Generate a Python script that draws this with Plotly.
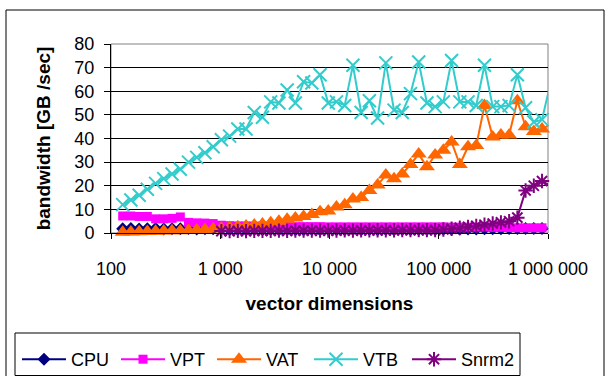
import plotly.graph_objects as go

# vector dimensions (x values)
dims = [128, 152, 181, 215, 256, 304, 362, 431, 512, 609, 724, 861,
        1024, 1218, 1448, 1722, 2048, 2435, 2896, 3444, 4096, 4871, 5793, 6889,
        8192, 9742, 11585, 13777, 16384, 19484, 23170, 27554, 32768, 38968, 46341, 55109,
        65536, 77936, 92682, 110218, 131072, 155872, 185364, 220436, 262144, 311744,
        370728, 440872, 524288, 623487, 741455, 881744, 1048576]

cpu = [1.8, 1.9, 1.7, 1.8, 1.9, 1.7, 1.8, 1.8, 1.9, 1.7, 1.8, 1.8,
       1.7, 1.5, 1.5, 1.4, 1.5, 1.4, 1.5, 1.4, 1.5, 1.4, 1.4, 1.5,
       1.4, 1.5, 1.4, 1.4, 1.5, 1.4, 1.5, 1.4, 1.5, 1.4, 1.5, 1.4,
       1.5, 1.5, 1.5, 1.6, 1.6, 1.6, 1.7, 1.7, 1.8, 1.8, 1.8, 1.9,
       1.9, 1.9, 1.9, 1.9, 1.9]

vpt = [7.2, 7.2, 7.0, 7.0, 6.0, 6.0, 6.2, 6.8, 4.5, 4.3, 4.2, 4.0,
       3.3, 3.1, 3.0, 3.0, 2.9, 2.9, 2.8, 2.8, 2.8, 2.7, 2.7, 2.7,
       2.7, 2.6, 2.6, 2.6, 2.6, 2.6, 2.6, 2.6, 2.6, 2.6, 2.6, 2.6,
       2.6, 2.6, 2.6, 2.6, 2.5, 2.5, 2.5, 2.5, 2.5, 2.4, 2.4, 2.3,
       2.2, 2.2, 2.2, 2.2, 2.2]

vat = [0.3, 0.4, 0.5, 0.6, 0.7, 0.8, 0.9, 1.0, 1.1, 1.3, 1.5, 1.7,
       2.0, 2.3, 2.6, 3.0, 3.4, 3.8, 4.3, 5.0, 5.8, 6.3, 7.0, 7.8,
       9.0, 9.3, 11.0, 12.0, 14.4, 15.0, 18.0, 20.3, 24.5, 23.0, 25.0, 29.0,
       33.4, 28.0, 33.0, 35.0, 38.5, 29.0, 36.5, 37.0, 54.0, 40.6, 41.5, 41.5,
       56.0, 45.0, 43.0, 44.0, 46.0]

vtb = [12, 14, 16, 18.5, 21, 23, 25, 27, 30, 32, 34, 36.5,
       39.5, 41, 44, 44, 51, 49, 55.5, 55, 60.5, 55, 64, 63.5,
       67, 55, 55.5, 54, 71, 51, 56, 48.7, 72, 52, 51, 59,
       72.4, 55, 53.5, 55.5, 73, 55.5, 55.5, 54, 71, 53.5, 53.5, 54,
       67, 53, 47, 48, 63]

snrm2 = [None] * 12 + [
       0.8, 0.8, 0.9, 0.8, 0.9, 0.9, 0.9, 1.0, 0.9, 1.0, 1.0, 1.0,
       1.0, 1.0, 1.0, 1.1, 1.0, 1.1, 1.1, 1.1, 1.1, 1.1, 1.2, 1.2,
       1.2, 1.2, 1.2, 1.5, 1.8, 2.2, 2.6, 3.0, 3.5, 4.0, 4.5, 5.0,
       6.5, 18.0, 20.0, 22.0, 20.0]

x_tickvals = [100, 1000, 10000, 100000, 1000000]
x_ticktext = ["100", "1 000", "10 000", "100 000", "1 000 000"]

FONT = "Liberation Sans, Arial, sans-serif"

series = [
    ("CPU", cpu, "#000080", "diamond", 10, 0),
    ("VPT", vpt, "#FF00FF", "square", 9, 0),
    ("VAT", vat, "#FF6600", "triangle-up", 14, 0),
    ("VTB", vtb, "#33CCCC", "x-thin-open", 13, 2),
    ("Snrm2", snrm2, "#800080", "asterisk-open", 12, 2),
]

# plot-area geometry in px: left 111, right 548, top 44, bottom 233
L, R, T, B = 111, 548, 44, 233
W, H = 610, 376

def px2x(p):
    return (p - L) / (R - L)

def py2y(p):
    return (B - p) / (B - T)

# left px of each legend entry
legend_px = [17, 116, 212, 309, 407]

fig = go.Figure()
legends = {}
for i, (name, vals, color, sym, size, mlw) in enumerate(series):
    lg = "legend" if i == 0 else f"legend{i + 1}"
    fig.add_trace(go.Scatter(
        x=dims, y=vals, name=name, mode="lines+markers",
        line=dict(color=color, width=2),
        marker=dict(symbol=sym, size=size, color=color,
                    line=dict(color=color, width=mlw)),
        cliponaxis=False, connectgaps=False, legend=lg,
    ))
    legends[lg] = dict(orientation="h", x=px2x(legend_px[i]), xanchor="left",
                       y=py2y(341), yanchor="top", borderwidth=0,
                       bgcolor="rgba(0,0,0,0)", itemwidth=44,
                       font=dict(family=FONT, size=18))

shapes = [
    # plot area border (gray)
    dict(type="rect", xref="paper", yref="paper", x0=0, x1=1, y0=0, y1=1,
         line=dict(color="#808080", width=1), layer="below"),
    # outer chart border
    dict(type="line", xref="paper", yref="paper", x0=px2x(6), x1=px2x(604),
         y0=py2y(10), y1=py2y(10), line=dict(color="#000000", width=1)),
    dict(type="line", xref="paper", yref="paper", x0=px2x(6), x1=px2x(6),
         y0=py2y(10), y1=py2y(380), line=dict(color="#000000", width=1)),
    dict(type="line", xref="paper", yref="paper", x0=px2x(604), x1=px2x(604),
         y0=py2y(10), y1=py2y(380), line=dict(color="#000000", width=1)),
    # legend box
    dict(type="rect", xref="paper", yref="paper", x0=px2x(15), x1=px2x(520),
         y0=py2y(375.5), y1=py2y(333), line=dict(color="#000000", width=1)),
]

fig.update_layout(
    width=W, height=H,
    margin=dict(l=L, r=W - R, t=T, b=H - B, autoexpand=False),
    paper_bgcolor="white", plot_bgcolor="white",
    font=dict(family=FONT, size=18, color="black"),
    shapes=shapes,
    showlegend=True,
    xaxis=dict(type="log", range=[2, 6], tickvals=x_tickvals, ticktext=x_ticktext,
               showgrid=False, zeroline=False, showline=True, linecolor="black",
               ticks="outside", ticklen=5, tickcolor="black",
               tickfont=dict(family=FONT, size=18), ticklabelstandoff=14,
               title=dict(text="<b>vector dimensions</b>", standoff=19,
                          font=dict(family=FONT, size=19))),
    yaxis=dict(range=[0, 80], dtick=10, showgrid=True, gridcolor="#000000", gridwidth=1,
               zeroline=False, showline=True, linecolor="black",
               ticks="outside", ticklen=6, tickcolor="black",
               tickfont=dict(family=FONT, size=18), ticklabelstandoff=6,
               title=dict(text="<b>bandwidth [GB /sec]</b>", standoff=18,
                          font=dict(family=FONT, size=19))),
    **legends,
)

fig.write_html("out.html")
